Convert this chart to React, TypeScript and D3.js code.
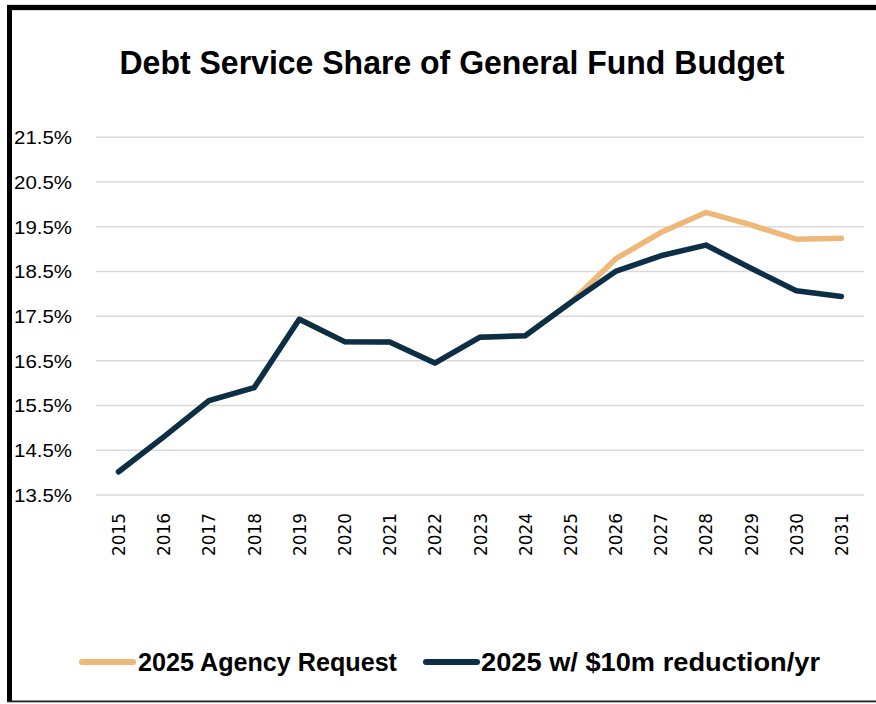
import React from "react";
import * as d3 from "d3";

const years = ["2015","2016","2017","2018","2019","2020","2021","2022","2023","2024","2025","2026","2027","2028","2029","2030","2031"];
const agencyRequest = [14.02,14.8,15.61,15.9,17.43,16.93,16.92,16.45,17.03,17.06,17.8,18.78,19.37,19.82,19.54,19.22,19.24];
const reduction = [14.02,14.8,15.61,15.9,17.43,16.93,16.92,16.45,17.03,17.06,17.8,18.5,18.85,19.09,18.57,18.07,17.94];
const yTicks = [13.5,14.5,15.5,16.5,17.5,18.5,19.5,20.5,21.5];
const seriesNames = ["2025 Agency Request", "2025 w/ $10m reduction/yr"];
const colors = ["#EDB878", "#0B2F47"];

export default function App() {
  const W = 876, H = 704;
  const x = d3.scalePoint<string>().domain(years).range([96, 864]).padding(0.5);
  const y = d3.scaleLinear().domain([13.5, 21.5]).range([495, 137.3]);
  const line = d3.line<number>().x((_, i) => x(years[i]) as number).y(d => y(d));
  const font = "'Liberation Sans', Arial, sans-serif";
  return (
    <svg width={W} height={H} style={{ position: "absolute", left: 0, top: 0 }}>
      <rect x={0} y={0} width={W} height={H} fill="#fff" />
      {/* frame */}
      <rect x={7} y={4} width={W} height={7} fill="#d9d9d9" />
      <rect x={7} y={5} width={W} height={5} fill="#000" />
      <rect x={7} y={5} width={5} height={697} fill="#000" />
      <rect x={7} y={700.5} width={W} height={1.8} fill="#222" />
      <text x={452} y={74} textAnchor="middle" fontFamily={font} fontWeight="bold" fontSize={33} textLength={665} lengthAdjust="spacingAndGlyphs" fill="#000">Debt Service Share of General Fund Budget</text>
      {yTicks.map(t => (
        <g key={t}>
          <line x1={96} x2={864} y1={y(t)} y2={y(t)} stroke="#d9d9d9" strokeWidth={1.5} />
          <text x={14} y={y(t)} dy="0.36em" fontFamily={font} fontSize={19} textLength={58} lengthAdjust="spacingAndGlyphs" fill="#000">{t.toFixed(1) + "%"}</text>
        </g>
      ))}
      {years.map(yr => (
        <text key={yr} transform={`translate(${(x(yr) as number) + 6.5},${513}) rotate(-90)`} textAnchor="end" fontFamily="'DejaVu Sans', sans-serif" fontSize={17.5} textLength={43} lengthAdjust="spacingAndGlyphs" fill="#000">{yr}</text>
      ))}
      <path d={line(agencyRequest) || ""} fill="none" stroke={colors[0]} strokeWidth={5.5} strokeLinejoin="round" strokeLinecap="round" />
      <path d={line(reduction) || ""} fill="none" stroke={colors[1]} strokeWidth={5.5} strokeLinejoin="round" strokeLinecap="round" />
      {/* legend */}
      <line x1={82} x2={133} y1={662} y2={662} stroke={colors[0]} strokeWidth={6} strokeLinecap="round" />
      <text x={138} y={671} fontFamily={font} fontWeight="bold" fontSize={25} textLength={259} lengthAdjust="spacingAndGlyphs" fill="#000">{seriesNames[0]}</text>
      <line x1={426} x2={477} y1={662} y2={662} stroke={colors[1]} strokeWidth={6} strokeLinecap="round" />
      <text x={481} y={671} fontFamily={font} fontWeight="bold" fontSize={25} textLength={339} lengthAdjust="spacingAndGlyphs" fill="#000">{seriesNames[1]}</text>
    </svg>
  );
}
